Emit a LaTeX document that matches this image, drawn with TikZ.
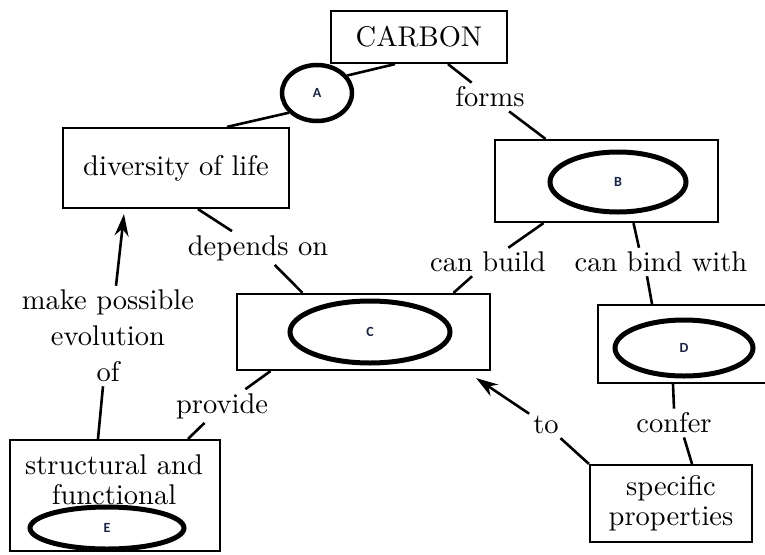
\documentclass[tikz,border=0pt]{standalone}
\usepackage{fontspec}
\setmainfont{lmroman10-regular}[Extension=.otf]
\newfontfamily\lblfont{Carlito}
\usetikzlibrary{shapes.geometric,arrows.meta}
\definecolor{lblcol}{RGB}{25,35,70}
\tikzset{
  box/.style={draw, line width=2.2pt, inner sep=0pt},
  blob/.style={draw, ellipse, line width=5pt, inner sep=0pt,
    font=\lblfont\bfseries\fontsize{14}{14}\selectfont, text=lblcol},
  txt/.style={inner sep=3pt, font=\fontsize{28.5}{30}\selectfont, align=center},
  lbl/.style={inner sep=4pt, font=\fontsize{28.5}{36}\selectfont, align=center},
  conn/.style={line width=2.6pt},
  arr/.style={conn, -{Stealth[length=22pt,width=14pt]}},
}
\begin{document}
\begin{tikzpicture}[x=1pt,y=-1pt]
\useasboundingbox[fill=white] (0,0) rectangle (765,554);
% concept boxes
\node[box, txt, minimum width=176pt, minimum height=52pt] (carbon) at (419,37) {CARBON};
\node[blob, line width=4.5pt, minimum width=70pt, minimum height=56pt] (A) at (317,93) {A};
\node[box, txt, minimum width=226pt, minimum height=80pt] (div) at (176,168) {diversity of life};
\node[box, minimum width=223pt, minimum height=82pt] (Bbox) at (606.5,181) {};
\node[blob, minimum width=136pt, minimum height=60pt] (B) at (618,182) {B};
\node[box, minimum width=253pt, minimum height=76pt] (Cbox) at (363.5,332) {};
\node[blob, minimum width=160pt, minimum height=62pt] (C) at (370,332) {C};
\node[box, minimum width=174pt, minimum height=78pt] (Dbox) at (685,344) {};
\node[blob, minimum width=138pt, minimum height=56pt] (D) at (684,348) {D};
\node[box, txt, minimum width=162pt, minimum height=77pt] (SP) at (671,503.5) {specific\\properties};
\node[box, minimum width=210pt, minimum height=111pt] (Ebox) at (115,495.5) {};
\node[txt] (Etext) at (114,480) {structural and\\functional};
\node[blob, minimum width=154pt, minimum height=42pt] (E) at (107,528) {E};
% link labels
\node[lbl] (forms) at (490,97) {forms};
\node[lbl] (canbuild) at (488,262) {can build};
\node[lbl] (canbind) at (661,262) {can bind with};
\node[lbl] (depends) at (258,248) {depends on};
\node[lbl] (provide) at (222,406) {provide};
\node[lbl] (to) at (546,425) {to};
\node[lbl] (confer) at (674,423) {confer};
\node[lbl] (make) at (108,336) {make possible\\evolution\\of};
% connectors
\draw[conn] (A.30) -- ([xshift=-24pt]carbon.south);
\draw[conn] (A.215) -- ([xshift=51pt]div.north);
\draw[conn] ([xshift=29pt]carbon.south) -- (forms);
\draw[conn] (forms) -- ([xshift=-61pt]Bbox.north);
\draw[conn] ([xshift=-63pt]Bbox.south) -- (canbuild);
\draw[conn] (canbuild) -- ([xshift=90pt]Cbox.north);
\draw[conn] ([xshift=27pt]Bbox.south) -- ([xshift=-22pt]canbind.north);
\draw[conn] ([xshift=-14pt]canbind.south) -- ([xshift=-33pt]Dbox.north);
\draw[conn] ([xshift=-12pt]Dbox.south) -- (confer.north);
\draw[conn] ([xshift=10pt]confer.south) -- ([xshift=21pt]SP.north);
\draw[conn] (SP.north west) -- (to);
\draw[arr] (to) -- ([shift={(-15pt,-7pt)}]Cbox.south east);
\draw[conn] ([xshift=22pt]div.south) -- (depends);
\draw[conn] (depends) -- ([xshift=-61pt]Cbox.north);
\draw[conn] ([xshift=-93pt]Cbox.south) -- (provide);
\draw[conn] (provide) -- ([xshift=73pt]Ebox.north);
\draw[conn] ([xshift=-17pt]Ebox.north) -- ([xshift=-5pt]make.south);
\draw[arr] ([xshift=8pt]make.north) -- ([shift={(-52pt,-5pt)}]div.south);
\end{tikzpicture}
\end{document}
